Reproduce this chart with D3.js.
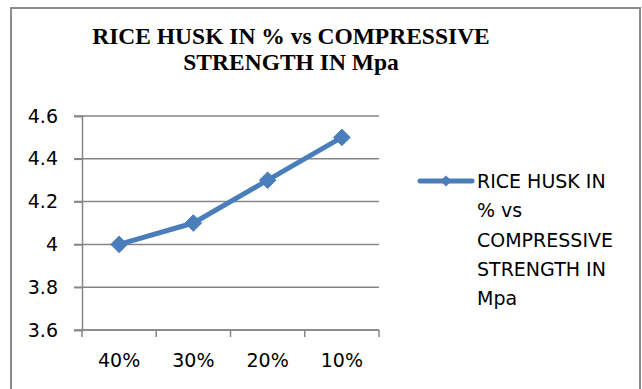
<!DOCTYPE html>
<html>
<head>
<meta charset="utf-8">
<script src="https://cdn.jsdelivr.net/npm/d3@7"></script>
<style>
  html, body { margin: 0; padding: 0; background: #fff; }
  svg { display: block; }
</style>
</head>
<body>
<svg id="chart" width="642" height="389"></svg>
<script>
// Chart data
const categories = ["40%", "30%", "20%", "10%"];
const strength = [4.0, 4.1, 4.3, 4.5];
const yTicks = [3.6, 3.8, 4.0, 4.2, 4.4, 4.6];
const titleLines = ["RICE HUSK IN % vs COMPRESSIVE", "STRENGTH IN Mpa"];
const legendLines = ["RICE HUSK IN", "% vs", "COMPRESSIVE", "STRENGTH IN", "Mpa"];

const svg = d3.select("#chart");
const lineColor = "#4A7EBB";
const gridColor = "#868686";
const labelFont = "'DejaVu Sans', sans-serif";

// Outer chart frame
svg.append("rect")
  .attr("x", 11).attr("y", 8)
  .attr("width", 629).attr("height", 400)
  .attr("fill", "#fff")
  .attr("stroke", "#8c8c8c").attr("stroke-width", 2);

// Title
svg.append("g").selectAll("text")
  .data(titleLines)
  .join("text")
  .attr("x", 291)
  .attr("y", (d, i) => 44 + i * 26)
  .attr("text-anchor", "middle")
  .attr("font-family", "'Liberation Serif', 'Times New Roman', serif")
  .attr("font-weight", "bold")
  .attr("font-size", "23.5px")
  .attr("fill", "#000")
  .text(d => d);

// Plot area
const plot = { left: 82, right: 379, top: 116, bottom: 330 };

const x = d3.scaleBand()
  .domain(categories)
  .range([plot.left, plot.right])
  .paddingInner(0).paddingOuter(0);

const y = d3.scaleLinear()
  .domain([3.6, 4.6])
  .range([plot.bottom, plot.top]);

// Horizontal gridlines
svg.append("g").selectAll("line")
  .data(yTicks)
  .join("line")
  .attr("x1", plot.left - 8)
  .attr("x2", plot.right)
  .attr("y1", d => y(d))
  .attr("y2", d => y(d))
  .attr("stroke", gridColor)
  .attr("stroke-width", 1.5);

// Y axis
const yAxis = svg.append("g")
  .attr("transform", `translate(${plot.left},0)`)
  .call(d3.axisLeft(y).tickValues(yTicks).tickSize(8).tickPadding(16)
    .tickFormat(d => d3.format("")(+d.toFixed(1))));
yAxis.select(".domain").attr("stroke", gridColor).attr("stroke-width", 1.5);
yAxis.selectAll(".tick line").attr("stroke", gridColor).attr("stroke-width", 1.5);
yAxis.selectAll(".tick text")
  .attr("font-family", labelFont)
  .attr("font-size", "19px")
  .attr("fill", "#000");

// X axis: ticks at category boundaries
const xAxis = svg.append("g")
  .attr("transform", `translate(0,${plot.bottom})`);
xAxis.append("line")
  .attr("x1", plot.left).attr("x2", plot.right)
  .attr("stroke", gridColor).attr("stroke-width", 1.5);
const boundaries = categories.map(c => x(c)).concat([x(categories[categories.length - 1]) + x.bandwidth()]);
xAxis.selectAll("line.tick")
  .data(boundaries)
  .join("line")
  .attr("class", "tick")
  .attr("x1", d => d).attr("x2", d => d)
  .attr("y1", 0).attr("y2", 7)
  .attr("stroke", gridColor).attr("stroke-width", 1.5);
xAxis.selectAll("text")
  .data(categories)
  .join("text")
  .attr("x", d => x(d) + x.bandwidth() / 2)
  .attr("y", 37)
  .attr("text-anchor", "middle")
  .attr("font-family", labelFont)
  .attr("font-size", "19px")
  .attr("fill", "#000")
  .text(d => d);

// Series line
const points = categories.map((c, i) => ({ c, v: strength[i] }));
const line = d3.line()
  .x(d => x(d.c) + x.bandwidth() / 2)
  .y(d => y(d.v));

svg.append("path")
  .datum(points)
  .attr("d", line)
  .attr("fill", "none")
  .attr("stroke", lineColor)
  .attr("stroke-width", 5)
  .attr("stroke-linejoin", "round")
  .attr("stroke-linecap", "round");

// Diamond markers
const diamond = d3.symbol().type(d3.symbolDiamond2).size(175);
svg.append("g").selectAll("path")
  .data(points)
  .join("path")
  .attr("transform", d => `translate(${x(d.c) + x.bandwidth() / 2},${y(d.v)})`)
  .attr("d", diamond)
  .attr("fill", lineColor)
  .attr("stroke", lineColor)
  .attr("stroke-width", 1);

// Legend
const legend = svg.append("g");
legend.append("line")
  .attr("x1", 420).attr("x2", 472)
  .attr("y1", 181).attr("y2", 181)
  .attr("stroke", lineColor)
  .attr("stroke-width", 5)
  .attr("stroke-linecap", "round");
legend.append("path")
  .attr("transform", "translate(446,181)")
  .attr("d", d3.symbol().type(d3.symbolDiamond2).size(80))
  .attr("fill", lineColor);
legend.selectAll("text")
  .data(legendLines)
  .join("text")
  .attr("x", 477)
  .attr("y", (d, i) => 188 + i * 29.3)
  .attr("font-family", labelFont)
  .attr("font-size", "19px")
  .attr("fill", "#000")
  .text(d => d);
</script>
</body>
</html>
